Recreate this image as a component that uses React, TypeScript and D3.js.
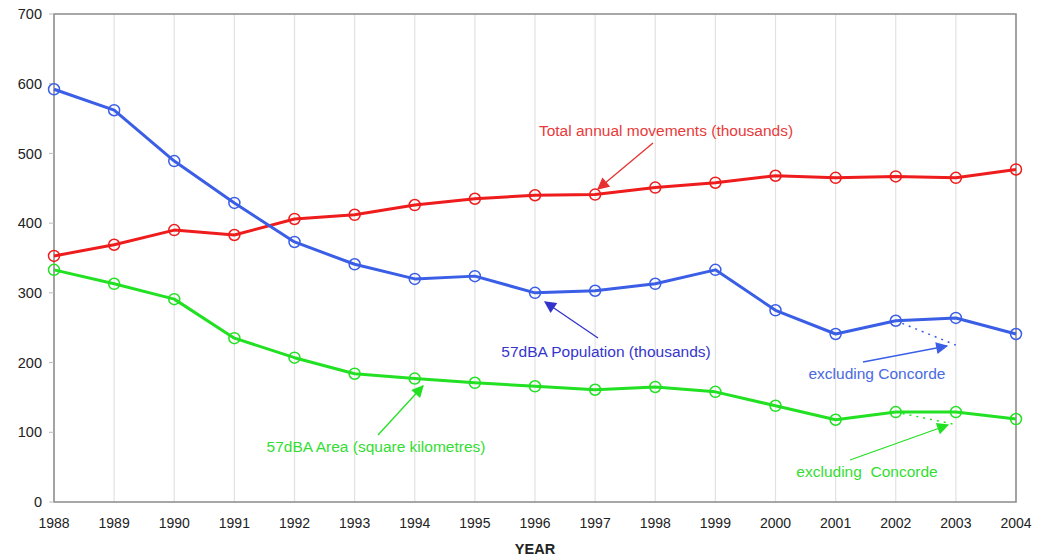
import React from "react";
import * as d3 from "d3";

const years = [1988,1989,1990,1991,1992,1993,1994,1995,1996,1997,1998,1999,2000,2001,2002,2003,2004];
const movements = [353,369,390,383,406,412,426,435,440,441,451,458,468,465,467,465,477];
const population = [592,562,489,429,373,341,320,324,300,303,313,333,275,241,260,264,241];
const area = [333,313,291,235,207,184,177,171,166,161,165,158,138,118,129,129,119];
const popExclConcorde = [{ year: 2002, v: 260 }, { year: 2003, v: 225 }];
const areaExclConcorde = [{ year: 2002, v: 129 }, { year: 2003, v: 111 }];
const yTicks = [0,100,200,300,400,500,600,700];

const W = 1043, H = 557;
const left = 54, right = 1016, top = 14, bottom = 502;

const RED = "#ee1c1c";
const BLUE = "#3a5ee6";
const GREEN = "#22e022";

export default function App() {
  const x = d3.scaleLinear().domain([1988, 2004]).range([left, right]);
  const y = d3.scaleLinear().domain([0, 700]).range([bottom, top]);
  const line = d3.line<number>().x((_, i) => x(years[i])).y(d => y(d));
  const dline = d3.line<{ year: number; v: number }>().x(d => x(d.year)).y(d => y(d.v));

  const series = [
    { data: movements, color: RED },
    { data: population, color: BLUE },
    { data: area, color: GREEN },
  ];

  const arrows = [
    { x1: 653, y1: 143, x2: 598, y2: 189, color: "#e83030", id: "aR" },
    { x1: 598, y1: 338, x2: 545, y2: 302, color: "#3333cc", id: "aB" },
    { x1: 378, y1: 435, x2: 423, y2: 386, color: GREEN, id: "aG" },
    { x1: 863, y1: 362, x2: 947, y2: 346, color: BLUE, id: "aB2" },
    { x1: 850, y1: 460, x2: 948, y2: 425, color: GREEN, id: "aG2" },
  ];

  const labels = [
    { x: 666, y: 136, text: "Total annual movements (thousands)", color: "#e83a3a" },
    { x: 606, y: 357, text: "57dBA Population (thousands)", color: "#3535cc" },
    { x: 376, y: 452, text: "57dBA Area (square kilometres)", color: "#33dd33" },
    { x: 877, y: 379, text: "excluding Concorde", color: "#4a6ae0" },
    { x: 867, y: 477, text: "excluding\u00a0 Concorde", color: "#33dd33" },
  ];

  return (
    <svg width={W} height={H} style={{ position: "absolute", left: 0, top: 0, background: "#fff" }}
      fontFamily="'Liberation Sans', Arial, sans-serif">
      <defs>
        {arrows.map(a => (
          <marker key={a.id} id={a.id} viewBox="0 0 10 10" refX="9" refY="5" markerWidth="14" markerHeight="12"
            markerUnits="userSpaceOnUse" orient="auto">
            <path d="M0,0 L10,5 L0,10 z" fill={a.color} />
          </marker>
        ))}
      </defs>
      {years.map(yr => (
        <line key={yr} x1={x(yr)} x2={x(yr)} y1={top} y2={bottom} stroke="#e2e2e2" strokeWidth={1.2} />
      ))}
      <rect x={left} y={top} width={right - left} height={bottom - top} fill="none" stroke="#8a8a8a" strokeWidth={1.5} />
      {yTicks.map(t => (
        <g key={t}>
          <line x1={left - 5} x2={left} y1={y(t)} y2={y(t)} stroke="#bbb" />
          <text x={42} y={y(t)} dy="0.35em" textAnchor="end" fontSize={14.5} fill="#222">{t}</text>
        </g>
      ))}
      {years.map(yr => (
        <text key={yr} x={x(yr)} y={528} textAnchor="middle" fontSize={14} fill="#222">{yr}</text>
      ))}
      <text x={535} y={554} textAnchor="middle" fontSize={14.5} fontWeight="bold" fill="#222">YEAR</text>

      <path d={dline(popExclConcorde) || ""} fill="none" stroke={BLUE} strokeWidth={1.5} strokeDasharray="2,5" />
      <path d={dline(areaExclConcorde) || ""} fill="none" stroke={GREEN} strokeWidth={1.5} strokeDasharray="2,5" />

      {series.map((s, si) => (
        <g key={si}>
          <path d={line(s.data) || ""} fill="none" stroke={s.color} strokeWidth={3} strokeLinejoin="round" />
          {s.data.map((v, i) => (
            <circle key={i} cx={x(years[i])} cy={y(v)} r={5.5} fill="none" stroke={s.color} strokeWidth={1.5} />
          ))}
        </g>
      ))}

      {arrows.map(a => (
        <line key={a.id} x1={a.x1} y1={a.y1} x2={a.x2} y2={a.y2} stroke={a.color} strokeWidth={1.3} markerEnd={`url(#${a.id})`} />
      ))}
      {labels.map((l, i) => (
        <text key={i} x={l.x} y={l.y} textAnchor="middle" fontSize={15.5} fill={l.color}>{l.text}</text>
      ))}
    </svg>
  );
}
